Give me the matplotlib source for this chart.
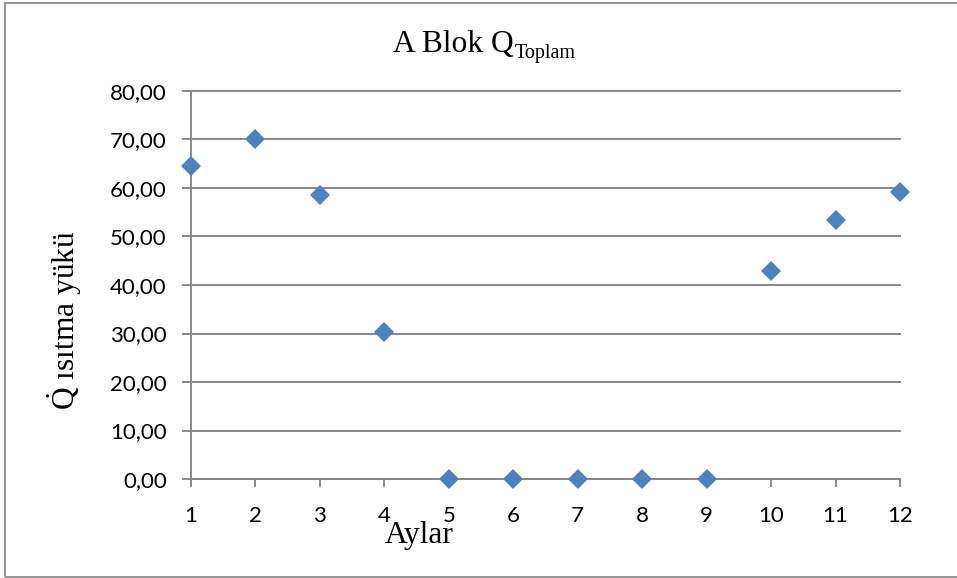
import matplotlib
matplotlib.use("Agg")
import matplotlib.pyplot as plt
from matplotlib.patches import Rectangle

# ---- data ----
months = [1, 2, 3, 4, 5, 6, 7, 8, 9, 10, 11, 12]
heating_load = [64.6, 70.1, 58.6, 30.4, 0.0, 0.0, 0.0, 0.0, 0.0, 42.8, 53.3, 59.2]
y_ticks = [0, 10, 20, 30, 40, 50, 60, 70, 80]
y_tick_labels = ["0,00", "10,00", "20,00", "30,00", "40,00", "50,00", "60,00", "70,00", "80,00"]
x_tick_labels = ["1", "2", "3", "4", "5", "6", "7", "8", "9", "10", "11", "12"]
title_main = "A Blok Q"
title_sub = "Toplam"
y_label = r"$\dot{\mathrm{Q}}$ ısıtma yükü"
x_label = "Aylar"

plt.rcParams['mathtext.fontset'] = 'custom'
plt.rcParams['mathtext.rm'] = 'Liberation Serif'
plt.rcParams['mathtext.it'] = 'Liberation Serif:italic'
plt.rcParams['mathtext.bf'] = 'Liberation Serif:bold'

W, H = 957, 578
fig = plt.figure(figsize=(W / 100, H / 100), dpi=100)
fig.patch.set_facecolor('white')


def fx(px):
    return px / W


def fy(py):
    return 1 - py / H


grid_c = '#888888'
serif = 'Liberation Serif'
tick_font = 'Lato'

ax = fig.add_axes([fx(191), fy(479), (900 - 191) / W, (479 - 91) / H])
ax.set_xlim(1, 12)
ax.set_ylim(0, 80)
ax.set_yticks(y_ticks)
ax.set_yticklabels(y_tick_labels)
ax.set_xticks(months)
ax.set_xticklabels(x_tick_labels)
ax.yaxis.grid(True, color=grid_c, lw=1.4, clip_on=False)
ax.set_axisbelow(True)
for s in ['top', 'right']:
    ax.spines[s].set_visible(False)
for s in ['left', 'bottom']:
    ax.spines[s].set_color(grid_c)
    ax.spines[s].set_linewidth(1.4)
ax.tick_params(axis='y', direction='out', length=6.5, width=1.4, color=grid_c,
               pad=11, labelsize=16)
ax.tick_params(axis='x', direction='out', length=5.8, width=1.4, color=grid_c,
               pad=14, labelsize=16)
for lbl in ax.get_xticklabels() + ax.get_yticklabels():
    lbl.set_family(tick_font)

ax.plot(months, heating_load, linestyle='none', marker='D', markersize=10.6,
        color='#4F81BD', markeredgewidth=0, clip_on=False, zorder=5)

# outer chart border
fig.add_artist(Rectangle((fx(5), fy(577)), (965 - 5) / W, (577 - 3) / H,
                         transform=fig.transFigure, fill=False,
                         edgecolor='#8c8c8c', lw=1.3))

# title with subscript
t1 = fig.text(fx(393), fy(52), title_main, fontsize=22.7, family=serif,
              va='baseline', ha='left')
fig.canvas.draw()
bb = t1.get_window_extent(renderer=fig.canvas.get_renderer())
fig.text(bb.x1 / W + 0.001, fy(58), title_sub, fontsize=14.5, family=serif,
         va='baseline', ha='left')

# axis labels
fig.text(fx(65), fy(320), y_label, fontsize=22.7, family=serif, rotation=90,
         ha='center', va='center')
fig.text(fx(385), fy(543), x_label, fontsize=22.7, family=serif,
         ha='left', va='baseline')

fig.savefig('out.png', dpi=100)
